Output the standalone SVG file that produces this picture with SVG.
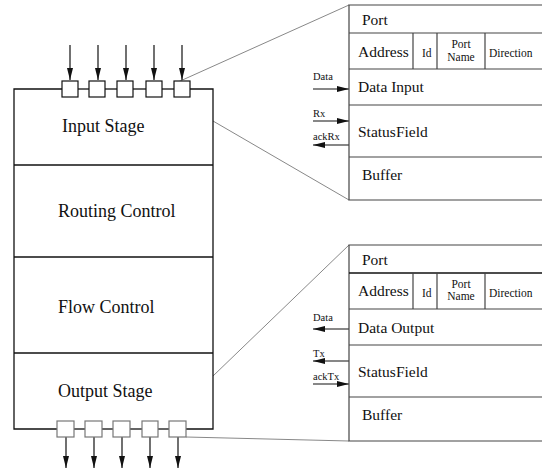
<svg xmlns="http://www.w3.org/2000/svg" width="542" height="470" viewBox="0 0 542 470">
  <style>
    text { font-family: "Liberation Serif", "Times New Roman", serif; fill: #111; }
    .stage { font-size: 18px; }
    .field { font-size: 15.5px; }
    .small { font-size: 11.5px; }
    .sig { font-size: 10.5px; }
    .box { fill: #fff; stroke: #111; stroke-width: 1.3; }
    .port-in { fill: #fff; stroke: #111; stroke-width: 1.2; }
    .port-out { fill: #fff; stroke: #777; stroke-width: 1.2; }
    .rule { stroke: #111; stroke-width: 1.3; fill: none; }
    .prule { stroke: #444; stroke-width: 1.2; fill: none; }
    .zoom { stroke: #888; stroke-width: 1; fill: none; }
    .wire { stroke: #111; stroke-width: 1.2; fill: none; marker-end: url(#head); }
  </style>
  <defs>
    <marker id="head" viewBox="0 0 12 6" refX="12" refY="3" markerWidth="12" markerHeight="6" markerUnits="userSpaceOnUse" orient="auto">
      <path d="M0,0 L12,3 L0,6 z" fill="#111"/>
    </marker>
  </defs>

  <rect width="542" height="470" fill="#fff"/>

  <!-- zoom-out projection lines -->
  <g id="connectors">
    <line class="zoom" x1="178" y1="82" x2="349" y2="5"/>
    <line class="zoom" x1="213" y1="121" x2="349" y2="200"/>
    <line class="zoom" x1="213" y1="376" x2="349" y2="245"/>
    <line class="zoom" x1="186" y1="437" x2="349" y2="441"/>

    <!-- inbound link arrows -->
    <line class="wire" x1="70" y1="45" x2="70" y2="80"/>
    <line class="wire" x1="98" y1="45" x2="98" y2="80"/>
    <line class="wire" x1="126" y1="45" x2="126" y2="80"/>
    <line class="wire" x1="154" y1="45" x2="154" y2="80"/>
    <line class="wire" x1="182" y1="45" x2="182" y2="80"/>

    <!-- outbound link arrows -->
    <line class="wire" x1="66" y1="437" x2="66" y2="468"/>
    <line class="wire" x1="94" y1="437" x2="94" y2="468"/>
    <line class="wire" x1="122" y1="437" x2="122" y2="468"/>
    <line class="wire" x1="150" y1="437" x2="150" y2="468"/>
    <line class="wire" x1="178" y1="437" x2="178" y2="468"/>

    <!-- input port signals -->
    <line class="wire" x1="313" y1="89" x2="349" y2="89"/>
    <line class="wire" x1="313" y1="121" x2="349" y2="121"/>
    <line class="wire" x1="349" y1="145" x2="313" y2="145"/>

    <!-- output port signals -->
    <line class="wire" x1="349" y1="329" x2="313" y2="329"/>
    <line class="wire" x1="349" y1="361" x2="313" y2="361"/>
    <line class="wire" x1="313" y1="384" x2="349" y2="384"/>
  </g>

  <!-- router block -->
  <g id="router">
    <path class="rule" d="M62,89 H14 V429 H57 M186,429 H213 V89 H190"/>
    <line class="rule" x1="78" y1="89" x2="89" y2="89"/>
    <line class="rule" x1="105" y1="89" x2="117" y2="89"/>
    <line class="rule" x1="133" y1="89" x2="146" y2="89"/>
    <line class="rule" x1="162" y1="89" x2="174" y2="89"/>
    <line class="rule" x1="74" y1="429" x2="85" y2="429"/>
    <line class="rule" x1="102" y1="429" x2="113" y2="429"/>
    <line class="rule" x1="130" y1="429" x2="142" y2="429"/>
    <line class="rule" x1="158" y1="429" x2="169" y2="429"/>
  </g>

  <g id="input-stage">
    <line class="rule" x1="14" y1="165" x2="213" y2="165"/>
    <text class="stage" x="62" y="132">Input Stage</text>
  </g>
  <g id="routing-control">
    <line class="rule" x1="14" y1="257" x2="213" y2="257"/>
    <text class="stage" x="58" y="217">Routing Control</text>
  </g>
  <g id="flow-control">
    <line class="rule" x1="14" y1="353" x2="213" y2="353"/>
    <text class="stage" x="58" y="313">Flow Control</text>
  </g>
  <g id="output-stage">
    <text class="stage" x="58" y="397">Output Stage</text>
  </g>

  <g id="input-ports">
    <rect class="port-in" x="62" y="81" width="16" height="16"/>
    <rect class="port-in" x="89" y="81" width="16" height="16"/>
    <rect class="port-in" x="117" y="81" width="16" height="16"/>
    <rect class="port-in" x="146" y="81" width="16" height="16"/>
    <rect class="port-in" x="174" y="81" width="16" height="16"/>
  </g>

  <g id="output-ports">
    <rect class="port-out" x="57" y="421" width="17" height="16"/>
    <rect class="port-out" x="85" y="421" width="17" height="16"/>
    <rect class="port-out" x="113" y="421" width="17" height="16"/>
    <rect class="port-out" x="142" y="421" width="16" height="16"/>
    <rect class="port-out" x="169" y="421" width="17" height="16"/>
  </g>

  <!-- input port record -->
  <g id="input-port-detail">
    <path class="prule" d="M545,5 H349 V200 H545"/>
    <line class="prule" x1="349" y1="33" x2="545" y2="33"/>
    <line class="prule" x1="349" y1="69" x2="545" y2="69"/>
    <line class="prule" x1="349" y1="105" x2="545" y2="105"/>
    <line class="prule" x1="349" y1="157" x2="545" y2="157"/>
    <line class="prule" x1="413" y1="33" x2="413" y2="69"/>
    <line class="prule" x1="437" y1="33" x2="437" y2="69"/>
    <line class="prule" x1="485" y1="33" x2="485" y2="69"/>
    <text class="field" x="362" y="25">Port</text>
    <text class="field" x="358" y="57">Address</text>
    <text class="small" x="422" y="57">Id</text>
    <text class="small" x="461" y="48" text-anchor="middle">Port</text>
    <text class="small" x="461" y="61" text-anchor="middle">Name</text>
    <text class="small" x="489" y="57">Direction</text>
    <text class="field" x="358" y="92">Data Input</text>
    <text class="field" x="358" y="137">StatusField</text>
    <text class="field" x="362" y="180">Buffer</text>
    <text class="sig" x="313" y="80">Data</text>
    <text class="sig" x="313" y="117">Rx</text>
    <text class="sig" x="313" y="140">ackRx</text>
  </g>

  <!-- output port record -->
  <g id="output-port-detail">
    <path class="prule" d="M545,245 H349 V441 H545"/>
    <line class="rule" x1="349" y1="273" x2="545" y2="273" stroke-width="1.8"/>
    <line class="prule" x1="349" y1="309" x2="545" y2="309"/>
    <line class="prule" x1="349" y1="345" x2="545" y2="345"/>
    <line class="prule" x1="349" y1="397" x2="545" y2="397"/>
    <line class="prule" x1="413" y1="273" x2="413" y2="309"/>
    <line class="prule" x1="437" y1="273" x2="437" y2="309"/>
    <line class="prule" x1="485" y1="273" x2="485" y2="309"/>
    <text class="field" x="362" y="265">Port</text>
    <text class="field" x="358" y="296">Address</text>
    <text class="small" x="422" y="297">Id</text>
    <text class="small" x="461" y="288" text-anchor="middle">Port</text>
    <text class="small" x="461" y="300" text-anchor="middle">Name</text>
    <text class="small" x="489" y="297">Direction</text>
    <text class="field" x="358" y="333">Data Output</text>
    <text class="field" x="358" y="377">StatusField</text>
    <text class="field" x="362" y="420">Buffer</text>
    <text class="sig" x="313" y="321">Data</text>
    <text class="sig" x="313" y="357">Tx</text>
    <text class="sig" x="313" y="380">ackTx</text>
  </g>
</svg>
